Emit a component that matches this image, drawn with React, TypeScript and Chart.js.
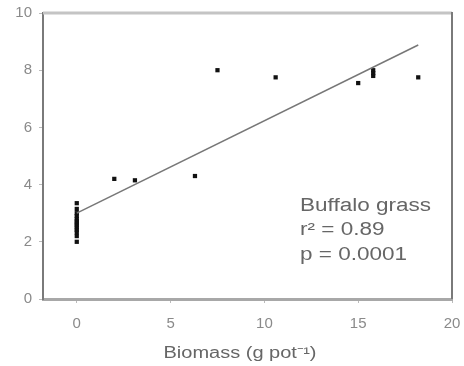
import React, { useEffect, useRef } from "react";
import { Chart, registerables } from "chart.js";

Chart.register(...registerables);

const zeroBiomassY = [3.35, 3.15, 3.0, 2.9, 2.8, 2.72, 2.65, 2.58, 2.5, 2.42, 2.33, 2.2, 2.0];
const otherX = [2.0, 3.1, 6.3, 7.5, 10.6, 15.0, 15.8, 15.8, 15.8, 18.2];
const otherY = [4.2, 4.15, 4.3, 8.0, 7.75, 7.55, 7.8, 7.9, 8.0, 7.75];
const fitX = [0, 18.2];
const fitY = [3.0, 8.88];
const xTicks = [0, 5, 10, 15, 20];
const annotationLines = ["Buffalo grass", "r\u00B2 = 0.89", "p = 0.0001"];
const annotationX = 11.9;
const annotationY = [3.25, 2.4, 1.52];
const xTitle = "Biomass (g pot\u207B\u00B9)";
const xTitleCenter = 8.7;

const FONT = "'Liberation Sans', Arial, sans-serif";

export default function App() {
  const ref = useRef<HTMLCanvasElement | null>(null);
  useEffect(() => {
    document.body.style.margin = "0";
    const canvas = ref.current!;
    const points = [
      ...zeroBiomassY.map((y) => ({ x: 0, y })),
      ...otherX.map((x, i) => ({ x, y: otherY[i] })),
    ];
    const frame = {
      id: "frame",
      afterDraw(chart: any) {
        const { ctx, chartArea: a, scales } = chart;
        ctx.save();
        ctx.lineWidth = 3;
        ctx.strokeStyle = "#c4c4c4";
        ctx.beginPath();
        ctx.moveTo(a.left, a.top);
        ctx.lineTo(a.right, a.top);
        ctx.stroke();
        ctx.lineWidth = 2;
        ctx.strokeStyle = "#7a7a7a";
        ctx.beginPath();
        ctx.moveTo(a.right, a.top - 1);
        ctx.lineTo(a.right, a.bottom);
        ctx.stroke();
        ctx.fillStyle = "#666";
        ctx.textBaseline = "middle";
        ctx.textAlign = "left";
        ctx.font = `18px ${FONT}`;
        annotationLines.forEach((t, i) => {
          ctx.save();
          ctx.translate(scales.x.getPixelForValue(annotationX), scales.y.getPixelForValue(annotationY[i]));
          ctx.scale(1.25, 1);
          ctx.fillText(t, 0, 0);
          ctx.restore();
        });
        ctx.font = `16px ${FONT}`;
        ctx.textAlign = "center";
        ctx.save();
        ctx.translate(scales.x.getPixelForValue(xTitleCenter), a.bottom + 55);
        ctx.scale(1.25, 1);
        ctx.fillText(xTitle, 0, 0);
        ctx.restore();
        ctx.restore();
      },
    };
    const chart = new Chart(canvas, {
      type: "scatter",
      data: {
        datasets: [
          {
            type: "line",
            data: fitX.map((x, i) => ({ x, y: fitY[i] })),
            borderColor: "#777",
            borderWidth: 1.5,
            pointRadius: 0,
            fill: false,
          } as any,
          {
            data: points,
            pointStyle: "rect",
            pointRadius: 3,
            backgroundColor: "#111",
            borderColor: "#111",
            borderWidth: 0,
          },
        ],
      },
      options: {
        responsive: false,
        animation: false,
        devicePixelRatio: 1,
        layout: { padding: { top: 13, right: 12, bottom: 0, left: 0 } },
        plugins: { legend: { display: false }, tooltip: { enabled: false } },
        scales: {
          x: {
            type: "linear",
            min: -1.8,
            max: 20,
            afterBuildTicks: (s: any) => {
              s.ticks = xTicks.map((v) => ({ value: v }));
            },
            afterFit: (s: any) => {
              s.height = 67;
              s.paddingRight = 0;
              s.paddingLeft = 0;
            },
            border: { display: true, color: "#a8a8a8", width: 3 },
            grid: { drawOnChartArea: false, drawTicks: true, tickLength: 4, color: "#bbb" },
            ticks: {
              color: "#8a8a8a",
              padding: 12,
              font: { size: 15, family: FONT },
            },
          },
          y: {
            type: "linear",
            min: 0,
            max: 10,
            afterFit: (s: any) => {
              s.width = 43;
              s.paddingTop = 0;
              s.paddingBottom = 0;
            },
            border: { display: true, color: "#7a7a7a", width: 2 },
            grid: { drawOnChartArea: false, drawTicks: true, tickLength: 4, color: "#bbb" },
            ticks: {
              stepSize: 2,
              color: "#8a8a8a",
              padding: 7,
              font: { size: 15, family: FONT },
            },
          },
        },
      },
      plugins: [frame],
    });
    return () => chart.destroy();
  }, []);
  return <canvas ref={ref} width={464} height={366} style={{ display: "block" }} />;
}
